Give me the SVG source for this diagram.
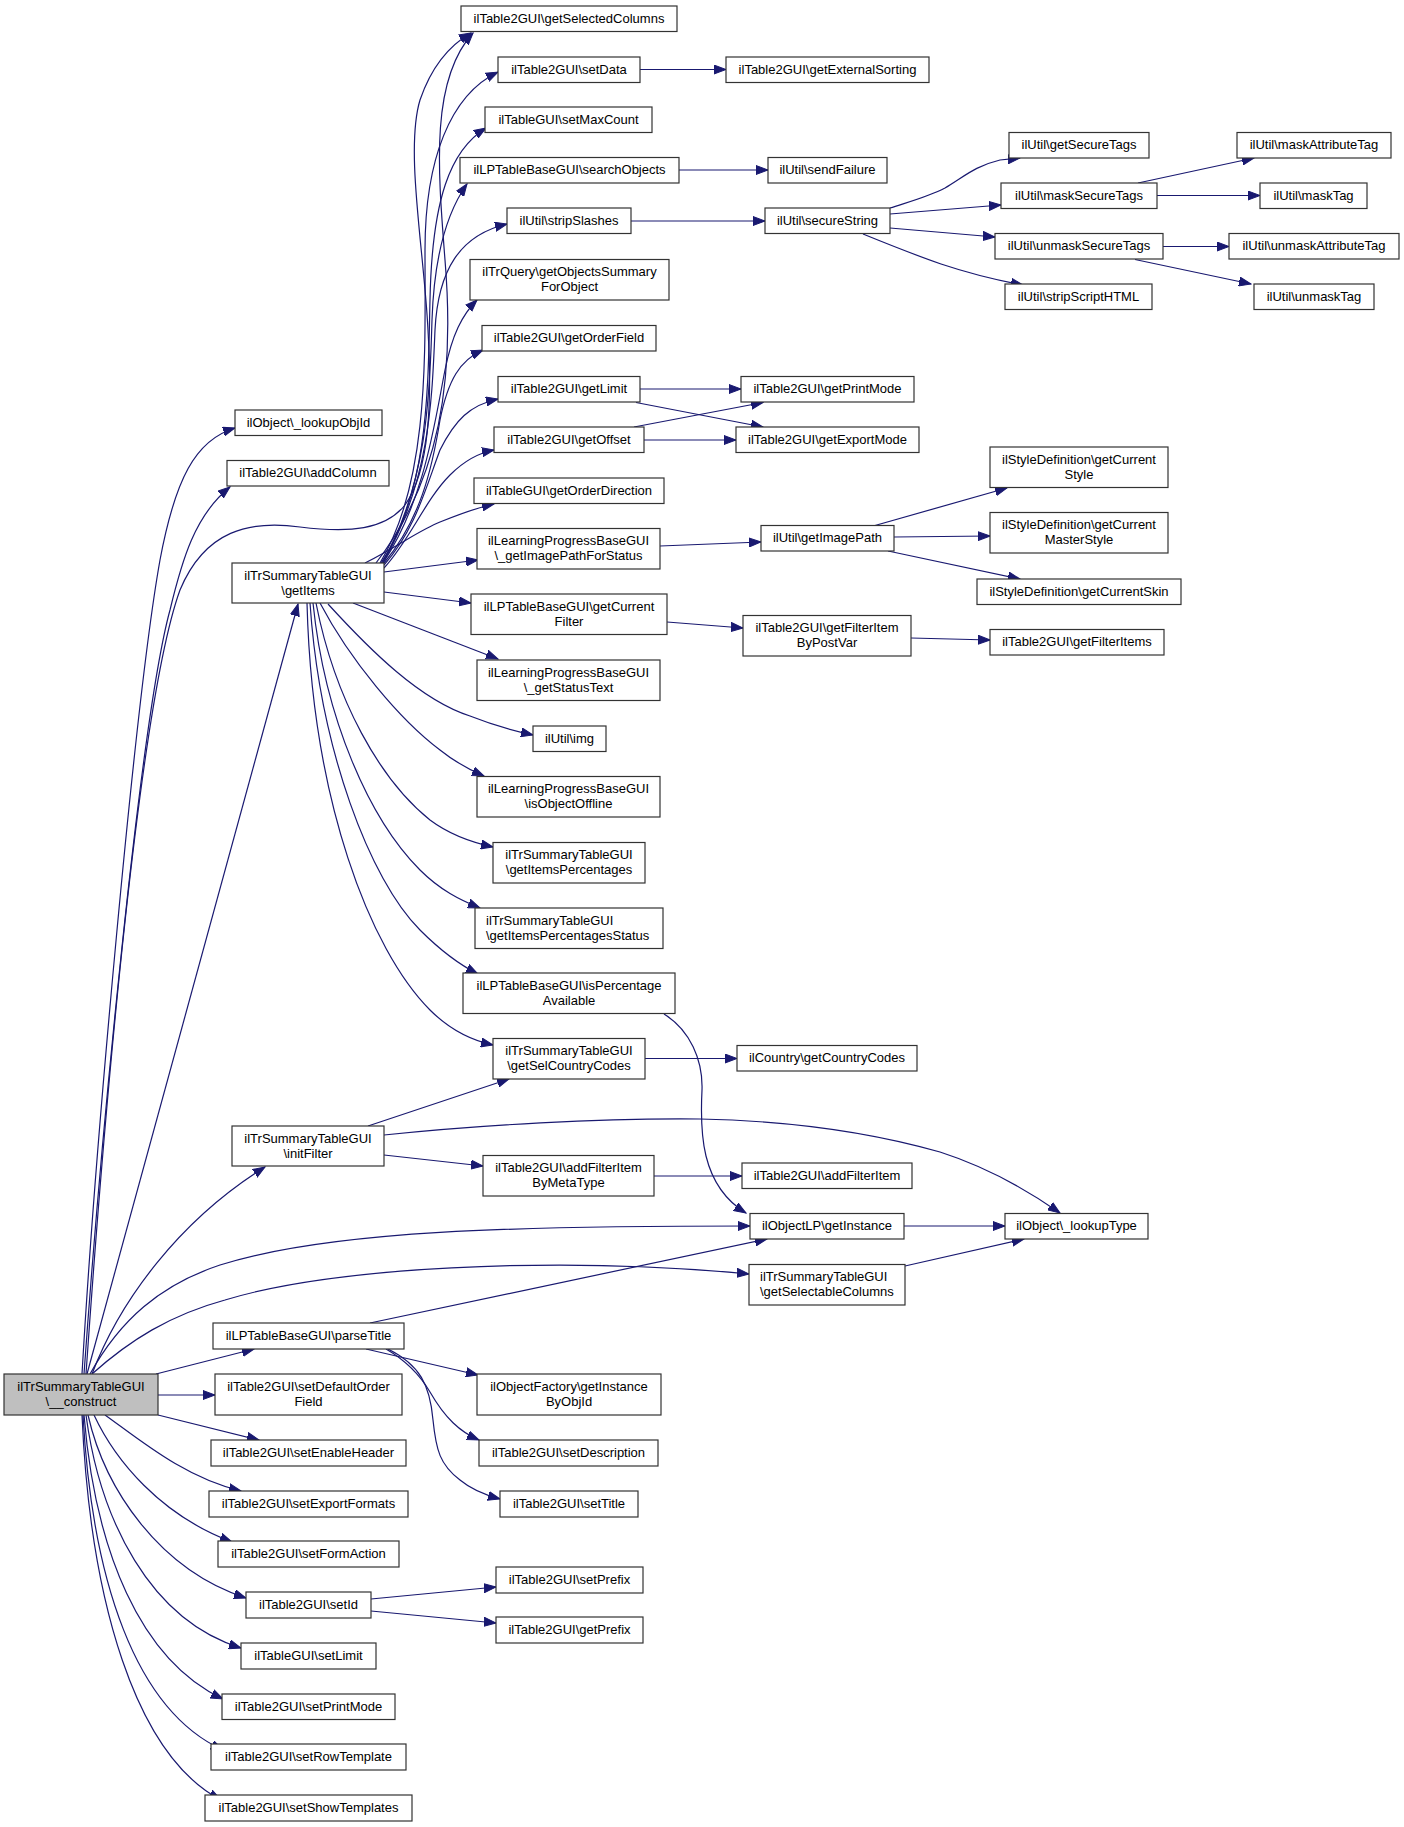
<svg xmlns="http://www.w3.org/2000/svg" width="1404" height="1827" viewBox="0 0 1404 1827">
<style>
.node rect{fill:#ffffff;stroke:#333333;stroke-width:1.2}
.root rect{fill:#bfbfbf}
text{font-family:"Liberation Sans",Arial,sans-serif;font-size:13px;fill:#000000;text-anchor:middle}
text.l{text-anchor:start}
.edges path{fill:none;stroke:#191970;stroke-width:1.2;marker-end:url(#arr)}
</style>
<defs>
<marker id="arr" markerWidth="13" markerHeight="10" refX="12" refY="5" orient="auto" markerUnits="userSpaceOnUse">
<path d="M0,0.5 L12,5 L0,9.5 z" fill="#191970" stroke="#191970" stroke-width="1"/>
</marker>
</defs>
<rect width="1404" height="1827" fill="#ffffff"/>
<g class="edges">
<!-- construct edges -->
<path d="M82,1374 C95,1150 135,700 160,560 C175,480 195,440 235,428"/>
<path d="M84,1374 C100,1150 140,720 170,610 C182,560 195,515 230,487"/>
<path d="M86,1374 C105,1100 140,700 180,590 C205,530 250,520 300,527 C350,533 385,530 405,505 C430,470 432,400 428,330 C424,250 405,150 420,100 C432,65 450,45 471,33"/>
<path d="M87,1374 L298,604"/>
<path d="M92,1374 C120,1300 180,1220 265,1167"/>
<path d="M90,1374 C120,1320 160,1285 220,1265 C330,1230 520,1226 750,1226"/>
<path d="M92,1374 C130,1340 170,1315 225,1300 C330,1268 550,1255 749,1274"/>
<path d="M156,1374 L254,1349"/>
<path d="M158,1395 L215,1395"/>
<path d="M158,1415 L259,1440"/>
<path d="M105,1415 C140,1440 185,1478 241,1491"/>
<path d="M94,1415 C115,1460 160,1515 232,1542"/>
<path d="M88,1415 C105,1490 160,1570 246,1598"/>
<path d="M86,1415 C100,1520 150,1620 241,1648"/>
<path d="M84,1415 C95,1550 140,1660 223,1699"/>
<path d="M83,1415 C92,1580 135,1710 223,1750"/>
<path d="M82,1415 C90,1600 135,1755 221,1800"/>
<!-- getItems edges up -->
<path d="M376,563 C440,480 455,380 445,260 C438,170 430,80 473,33"/>
<path d="M380,563 C430,480 425,350 425,250 C425,160 450,95 498,72"/>
<path d="M381,563 C430,490 428,380 430,300 C432,200 450,150 486,128"/>
<path d="M382,563 C430,480 430,380 432,320 C434,260 445,215 467,184"/>
<path d="M383,563 C430,480 432,400 435,330 C438,270 460,235 507,224"/>
<path d="M383,563 C425,500 435,420 445,370 C452,335 462,315 477,300"/>
<path d="M384,563 C420,520 432,470 440,420 C448,380 460,360 483,350"/>
<path d="M384,565 C415,530 425,490 440,450 C455,420 470,405 498,399"/>
<path d="M384,568 C410,540 425,500 450,475 C465,460 478,453 494,450"/>
<path d="M365,563 C400,545 420,530 440,522 C460,514 475,508 494,504"/>
<path d="M384,572 L478,560"/>
<path d="M384,592 L471,603"/>
<!-- getItems edges down -->
<path d="M353,603 L498,659"/>
<path d="M328,604 C370,650 420,700 470,716 C495,726 515,731 533,735"/>
<path d="M320,603 C350,660 400,720 440,750 C455,762 470,770 484,776"/>
<path d="M316,603 C335,700 380,780 430,820 C450,835 470,842 493,847"/>
<path d="M313,603 C325,720 370,820 420,870 C440,890 460,900 480,908"/>
<path d="M310,603 C320,750 370,880 420,930 C440,950 460,965 478,974"/>
<path d="M307,603 C312,800 370,950 430,1010 C450,1030 470,1040 493,1045"/>
<!-- second level -->
<path d="M640,69.5 L726,69.5"/>
<path d="M679,170 L768,170"/>
<path d="M631,221 L765,221"/>
<path d="M890,208 C915,200 930,196 945,188 C965,176 975,166 1000,160 L1020,158"/>
<path d="M890,214 L1001,205"/>
<path d="M890,228 L995,237"/>
<path d="M863,234 C890,245 915,255 941,264 C965,272 990,279 1023,285"/>
<path d="M1138,183 L1254,158"/>
<path d="M1157,195.5 L1260,195.5"/>
<path d="M1163,246.5 L1229,246.5"/>
<path d="M1135,259.5 L1251,284"/>
<path d="M640,389 L741,389"/>
<path d="M636,402.5 L763,427"/>
<path d="M634,427 L763,402.5"/>
<path d="M644,440 L736,440"/>
<path d="M660,546 L761,542"/>
<path d="M875,525.5 L1007,488"/>
<path d="M894,537 L990,536"/>
<path d="M888,551 L1020,579"/>
<path d="M667,622 L743,628"/>
<path d="M911,638 L990,640"/>
<path d="M645,1058.5 L737,1058.5"/>
<path d="M664,1014 C690,1030 703,1060 702,1090 C700,1130 700,1185 746,1213"/>
<path d="M368,1126 L509,1079"/>
<path d="M384,1135 C480,1125 600,1118 700,1119 C800,1121 880,1135 940,1152 C990,1168 1030,1192 1060,1213"/>
<path d="M384,1155 L483,1166"/>
<path d="M654,1176 L742,1176"/>
<path d="M904,1226 L1005,1226"/>
<path d="M905,1266 L1024,1239"/>
<path d="M366,1349 L478,1375"/>
<path d="M386,1349 C405,1360 420,1375 430,1392 C445,1418 460,1432 479,1440"/>
<path d="M388,1349 C420,1365 430,1385 433,1420 C436,1450 440,1465 460,1480 C472,1490 485,1495 500,1499"/>
<path d="M370,1323 L767,1239"/>
<path d="M371,1599 L496,1587"/>
<path d="M371,1611 L496,1623"/>
</g>
<!-- nodes -->
<g id="n_construct" class="node root"><rect x="4" y="1374" width="154" height="41"/><text x="81" y="1390.5">ilTrSummaryTableGUI</text><text x="81" y="1405.5">\__construct</text></g>
<g id="n_lookupObjId" class="node"><rect x="235" y="410" width="147" height="25.5"/><text x="308.5" y="426.5">ilObject\_lookupObjId</text></g>
<g id="n_addColumn" class="node"><rect x="227" y="460.5" width="162" height="25.5"/><text x="308" y="477">ilTable2GUI\addColumn</text></g>
<g id="n_getItems" class="node"><rect x="232" y="563" width="152" height="40"/><text x="308" y="579.5">ilTrSummaryTableGUI</text><text x="308" y="594.5">\getItems</text></g>
<g id="n_initFilter" class="node"><rect x="232" y="1126" width="152" height="40"/><text x="308" y="1142.5">ilTrSummaryTableGUI</text><text x="308" y="1157.5">\initFilter</text></g>
<g id="n_parseTitle" class="node"><rect x="213" y="1323" width="191" height="26"/><text x="308.5" y="1340">ilLPTableBaseGUI\parseTitle</text></g>
<g id="n_setDefaultOrderField" class="node"><rect x="215" y="1374" width="187" height="41"/><text x="308.5" y="1390.5">ilTable2GUI\setDefaultOrder</text><text x="308.5" y="1405.5">Field</text></g>
<g id="n_setEnableHeader" class="node"><rect x="211" y="1440" width="195" height="26"/><text x="308.5" y="1457">ilTable2GUI\setEnableHeader</text></g>
<g id="n_setExportFormats" class="node"><rect x="209" y="1491" width="199" height="26"/><text x="308.5" y="1508">ilTable2GUI\setExportFormats</text></g>
<g id="n_setFormAction" class="node"><rect x="218" y="1541" width="181" height="26"/><text x="308.5" y="1558">ilTable2GUI\setFormAction</text></g>
<g id="n_setId" class="node"><rect x="246" y="1592" width="125" height="26"/><text x="308.5" y="1609">ilTable2GUI\setId</text></g>
<g id="n_setLimit" class="node"><rect x="241" y="1643" width="135" height="26"/><text x="308.5" y="1660">ilTableGUI\setLimit</text></g>
<g id="n_setPrintMode" class="node"><rect x="222" y="1694" width="173" height="25.5"/><text x="308.5" y="1710.5">ilTable2GUI\setPrintMode</text></g>
<g id="n_setRowTemplate" class="node"><rect x="211" y="1744" width="195" height="26"/><text x="308.5" y="1761">ilTable2GUI\setRowTemplate</text></g>
<g id="n_setShowTemplates" class="node"><rect x="205" y="1795" width="207" height="26"/><text x="308.5" y="1812">ilTable2GUI\setShowTemplates</text></g>
<g id="n_getSelectedColumns" class="node"><rect x="461" y="6" width="216" height="25.5"/><text x="569" y="22.5">ilTable2GUI\getSelectedColumns</text></g>
<g id="n_setData" class="node"><rect x="498" y="57" width="142" height="25.5"/><text x="569" y="73.5">ilTable2GUI\setData</text></g>
<g id="n_setMaxCount" class="node"><rect x="485" y="107" width="167" height="25.5"/><text x="568.5" y="123.5">ilTableGUI\setMaxCount</text></g>
<g id="n_searchObjects" class="node"><rect x="460" y="157.5" width="219" height="25.5"/><text x="569.5" y="174">ilLPTableBaseGUI\searchObjects</text></g>
<g id="n_stripSlashes" class="node"><rect x="507" y="208" width="124" height="25.5"/><text x="569" y="224.5">ilUtil\stripSlashes</text></g>
<g id="n_getObjectsSummaryForObject" class="node"><rect x="470" y="259.5" width="199" height="40.5"/><text x="569.5" y="276">ilTrQuery\getObjectsSummary</text><text x="569.5" y="291">ForObject</text></g>
<g id="n_getOrderField" class="node"><rect x="482" y="325.5" width="174" height="25.5"/><text x="569" y="342">ilTable2GUI\getOrderField</text></g>
<g id="n_getLimit" class="node"><rect x="498" y="376.5" width="142" height="25.5"/><text x="569" y="393">ilTable2GUI\getLimit</text></g>
<g id="n_getOffset" class="node"><rect x="494" y="427" width="150" height="25.5"/><text x="569" y="443.5">ilTable2GUI\getOffset</text></g>
<g id="n_getOrderDirection" class="node"><rect x="474" y="478" width="190" height="25.5"/><text x="569" y="494.5">ilTableGUI\getOrderDirection</text></g>
<g id="n_getImagePathForStatus" class="node"><rect x="477" y="528.5" width="183" height="40.5"/><text x="568.5" y="545">ilLearningProgressBaseGUI</text><text x="568.5" y="560">\_getImagePathForStatus</text></g>
<g id="n_getCurrentFilter" class="node"><rect x="471" y="594" width="196" height="40.5"/><text x="569" y="610.5">ilLPTableBaseGUI\getCurrent</text><text x="569" y="625.5">Filter</text></g>
<g id="n_getStatusText" class="node"><rect x="477" y="660" width="183" height="40.5"/><text x="568.5" y="676.5">ilLearningProgressBaseGUI</text><text x="568.5" y="691.5">\_getStatusText</text></g>
<g id="n_img" class="node"><rect x="533" y="726" width="73" height="25.5"/><text x="569.5" y="742.5">ilUtil\img</text></g>
<g id="n_isObjectOffline" class="node"><rect x="477" y="776.5" width="183" height="40.5"/><text x="568.5" y="793">ilLearningProgressBaseGUI</text><text x="568.5" y="808">\isObjectOffline</text></g>
<g id="n_getItemsPercentages" class="node"><rect x="493" y="842.5" width="152" height="40.5"/><text x="569" y="859">ilTrSummaryTableGUI</text><text x="569" y="874">\getItemsPercentages</text></g>
<g id="n_getItemsPercentagesStatus" class="node"><rect x="475" y="908" width="188" height="40.5"/><text class="l" x="486" y="924.5">ilTrSummaryTableGUI</text><text class="l" x="486" y="939.5">\getItemsPercentagesStatus</text></g>
<g id="n_isPercentageAvailable" class="node"><rect x="463" y="973" width="212" height="40.5"/><text x="569" y="989.5">ilLPTableBaseGUI\isPercentage</text><text x="569" y="1004.5">Available</text></g>
<g id="n_getSelCountryCodes" class="node"><rect x="493" y="1038.5" width="152" height="40.5"/><text x="569" y="1055">ilTrSummaryTableGUI</text><text x="569" y="1070">\getSelCountryCodes</text></g>
<g id="n_addFilterItemByMetaType" class="node"><rect x="483" y="1155.5" width="171" height="40.5"/><text x="568.5" y="1172">ilTable2GUI\addFilterItem</text><text x="568.5" y="1187">ByMetaType</text></g>
<g id="n_getInstanceByObjId" class="node"><rect x="477" y="1374" width="184" height="41"/><text x="569" y="1390.5">ilObjectFactory\getInstance</text><text x="569" y="1405.5">ByObjId</text></g>
<g id="n_setDescription" class="node"><rect x="479" y="1440" width="179" height="26"/><text x="568.5" y="1457">ilTable2GUI\setDescription</text></g>
<g id="n_setTitle" class="node"><rect x="500" y="1491" width="138" height="26"/><text x="569" y="1508">ilTable2GUI\setTitle</text></g>
<g id="n_setPrefix" class="node"><rect x="496" y="1567" width="147" height="26"/><text x="569.5" y="1584">ilTable2GUI\setPrefix</text></g>
<g id="n_getPrefix" class="node"><rect x="496" y="1617" width="147" height="26"/><text x="569.5" y="1634">ilTable2GUI\getPrefix</text></g>
<g id="n_getExternalSorting" class="node"><rect x="726" y="57" width="203" height="25.5"/><text x="827.5" y="73.5">ilTable2GUI\getExternalSorting</text></g>
<g id="n_sendFailure" class="node"><rect x="768" y="157.5" width="119" height="25.5"/><text x="827.5" y="174">ilUtil\sendFailure</text></g>
<g id="n_secureString" class="node"><rect x="765" y="208" width="125" height="25.5"/><text x="827.5" y="224.5">ilUtil\secureString</text></g>
<g id="n_getPrintMode" class="node"><rect x="741" y="376.5" width="173" height="25.5"/><text x="827.5" y="393">ilTable2GUI\getPrintMode</text></g>
<g id="n_getExportMode" class="node"><rect x="736" y="427" width="183" height="25.5"/><text x="827.5" y="443.5">ilTable2GUI\getExportMode</text></g>
<g id="n_getImagePath" class="node"><rect x="761" y="525.5" width="133" height="25.5"/><text x="827.5" y="542">ilUtil\getImagePath</text></g>
<g id="n_getFilterItemByPostVar" class="node"><rect x="743" y="615.5" width="168" height="40.5"/><text x="827" y="632">ilTable2GUI\getFilterItem</text><text x="827" y="647">ByPostVar</text></g>
<g id="n_getCountryCodes" class="node"><rect x="737" y="1045.5" width="180" height="25.5"/><text x="827" y="1062">ilCountry\getCountryCodes</text></g>
<g id="n_addFilterItem" class="node"><rect x="742" y="1163" width="170" height="25.5"/><text x="827" y="1179.5">ilTable2GUI\addFilterItem</text></g>
<g id="n_ilObjectLP_getInstance" class="node"><rect x="750" y="1213.5" width="154" height="25.5"/><text x="827" y="1230">ilObjectLP\getInstance</text></g>
<g id="n_getSelectableColumns" class="node"><rect x="749" y="1264.5" width="156" height="40.5"/><text class="l" x="760" y="1281">ilTrSummaryTableGUI</text><text class="l" x="760" y="1296">\getSelectableColumns</text></g>
<g id="n_getSecureTags" class="node"><rect x="1009" y="132.5" width="140" height="25.5"/><text x="1079" y="149">ilUtil\getSecureTags</text></g>
<g id="n_maskSecureTags" class="node"><rect x="1001" y="183" width="156" height="25.5"/><text x="1079" y="199.5">ilUtil\maskSecureTags</text></g>
<g id="n_unmaskSecureTags" class="node"><rect x="995" y="233.5" width="168" height="25.5"/><text x="1079" y="250">ilUtil\unmaskSecureTags</text></g>
<g id="n_stripScriptHTML" class="node"><rect x="1005" y="284" width="147" height="25.5"/><text x="1078.5" y="300.5">ilUtil\stripScriptHTML</text></g>
<g id="n_getCurrentStyle" class="node"><rect x="990" y="447" width="178" height="40.5"/><text x="1079" y="463.5">ilStyleDefinition\getCurrent</text><text x="1079" y="478.5">Style</text></g>
<g id="n_getCurrentMasterStyle" class="node"><rect x="990" y="512.5" width="178" height="40.5"/><text x="1079" y="529">ilStyleDefinition\getCurrent</text><text x="1079" y="544">MasterStyle</text></g>
<g id="n_getCurrentSkin" class="node"><rect x="977" y="579" width="204" height="25.5"/><text x="1079" y="595.5">ilStyleDefinition\getCurrentSkin</text></g>
<g id="n_getFilterItems" class="node"><rect x="990" y="629.5" width="174" height="25.5"/><text x="1077" y="646">ilTable2GUI\getFilterItems</text></g>
<g id="n_lookupType" class="node"><rect x="1005" y="1213.5" width="143" height="25.5"/><text x="1076.5" y="1230">ilObject\_lookupType</text></g>
<g id="n_maskAttributeTag" class="node"><rect x="1237" y="132.5" width="154" height="25.5"/><text x="1314" y="149">ilUtil\maskAttributeTag</text></g>
<g id="n_maskTag" class="node"><rect x="1260" y="183" width="107" height="25.5"/><text x="1313.5" y="199.5">ilUtil\maskTag</text></g>
<g id="n_unmaskAttributeTag" class="node"><rect x="1229" y="233.5" width="170" height="25.5"/><text x="1314" y="250">ilUtil\unmaskAttributeTag</text></g>
<g id="n_unmaskTag" class="node"><rect x="1254" y="284" width="120" height="25.5"/><text x="1314" y="300.5">ilUtil\unmaskTag</text></g>
</svg>
